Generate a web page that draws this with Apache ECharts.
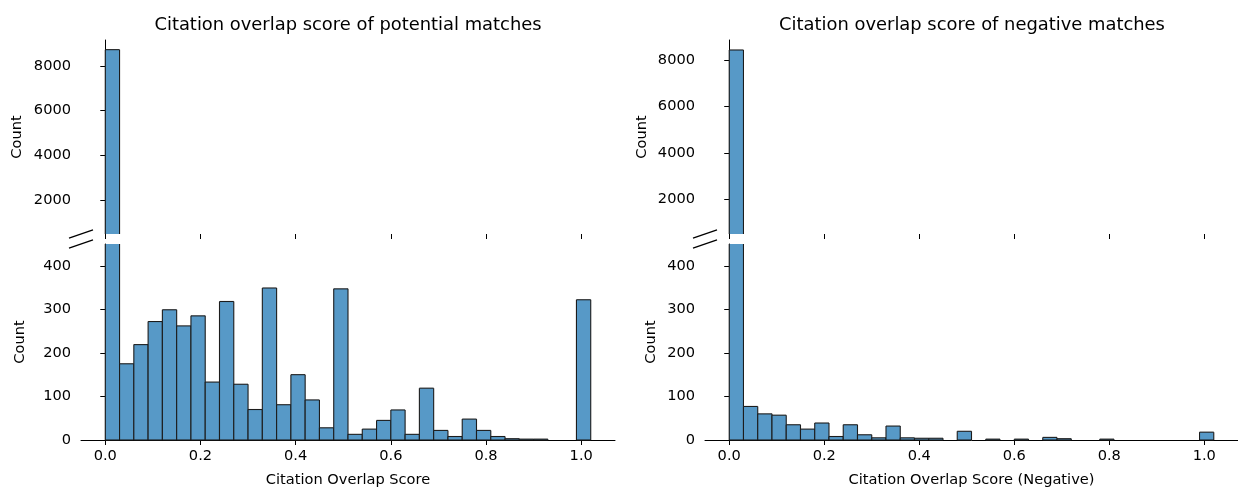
<!DOCTYPE html>
<html>
<head>
<meta charset="utf-8">
<script src="https://cdn.jsdelivr.net/npm/echarts@6/dist/echarts.min.js"></script>
<style>
html,body{margin:0;padding:0;background:#fff;}
#chart{width:1238px;height:489px;}
</style>
</head>
<body>
<div id="chart"></div>
<script>
// ---- data ----
const binWidth = 0.03;
const binStart = 0.0;
const potentialCounts = [8720, 175, 219, 272, 299, 262, 285, 133, 318, 128, 70, 349, 81, 150, 92, 28, 347, 13, 25, 45, 69, 13, 119, 22, 8, 48, 22, 8, 3, 2, 2, 0, 0, 322];
const negativeCounts  = [8430, 77, 60, 57, 35, 25, 39, 8, 35, 12, 5, 32, 5, 4, 4, 0, 20, 0, 2, 0, 2, 0, 6, 3, 0, 0, 2, 0, 0, 0, 0, 0, 0, 18];
const xTicks = [0.0, 0.2, 0.4, 0.6, 0.8, 1.0];
const lowerYTicks = [0, 100, 200, 300, 400];
const upperYTicks = [2000, 4000, 6000, 8000];
const titles = ['Citation overlap score of potential matches', 'Citation overlap score of negative matches'];
const xNames = ['Citation Overlap Score', 'Citation Overlap Score (Negative)'];
const yName = 'Count';

// ---- layout ----
const FONT = 'DejaVu Sans';
const xMin = -0.051, xMax = 1.071;
const lowerMax = 450, upperMin = 500;
const upperMaxes = [9150, 8860];
const panels = [
  {left: 81, width: 534, gapTop: 56, gapBot: 53},
  {left: 705, width: 534, gapTop: 55, gapBot: 46}
];
const topY = 40, topH = 194, botY = 244, botH = 196;
const FILL = '#5799c7', EDGE = '#1c1c1c', AX = '#000';
const LBL = 14.6, TTL = 17.9;

function binData(counts) {
  return counts.map((c, i) => [binStart + i * binWidth, binStart + (i + 1) * binWidth, c]);
}

function renderHist(params, api) {
  const v = api.value(2);
  if (!(v > 0)) return;
  const cs = params.coordSys;
  const a = api.coord([api.value(0), v]);
  const b = api.coord([api.value(1), 0]);
  const xL = a[0], xR = b[0];
  const top = cs.y, bottom = cs.y + cs.height;
  if (a[1] >= bottom) return;
  const clipTop = a[1] < top;
  const clipBot = b[1] > bottom;
  const yT = Math.max(a[1], top);
  const yB = Math.min(b[1], bottom);
  const ls = {stroke: EDGE, lineWidth: 1.1};
  const children = [
    {type: 'rect', shape: {x: xL, y: yT, width: xR - xL, height: yB - yT}, style: {fill: FILL}},
    {type: 'line', shape: {x1: xL, y1: yB, x2: xL, y2: yT}, style: ls},
    {type: 'line', shape: {x1: xR, y1: yB, x2: xR, y2: yT}, style: ls}
  ];
  if (!clipTop) children.push({type: 'line', shape: {x1: xL, y1: yT, x2: xR, y2: yT}, style: ls});
  if (!clipBot) children.push({type: 'line', shape: {x1: xL, y1: yB, x2: xR, y2: yB}, style: ls});
  return {type: 'group', children: children};
}

const grids = [], xAxes = [], yAxes = [], series = [], titleOpts = [], graphics = [];
const labelStyle = {color: '#000', fontFamily: FONT, fontSize: LBL};
const countsList = [potentialCounts, negativeCounts];
const plain = v => String(v);

panels.forEach((p, k) => {
  grids.push({left: p.left, width: p.width, top: topY, height: topH, containLabel: false});
  grids.push({left: p.left, width: p.width, top: botY, height: botH, containLabel: false});
  const gU = 2 * k, gL = 2 * k + 1;
  xAxes.push({
    type: 'value', gridIndex: gU, min: xMin, max: xMax,
    axisLine: {show: false},
    axisTick: {show: true, inside: false, length: 5, lineStyle: {color: AX, width: 1}, customValues: xTicks},
    axisLabel: {show: false, customValues: xTicks},
    splitLine: {show: false}
  });
  xAxes.push({
    type: 'value', gridIndex: gL, min: xMin, max: xMax,
    name: xNames[k], nameLocation: 'middle', nameGap: 33,
    nameTextStyle: labelStyle,
    axisLine: {show: true, onZero: false, lineStyle: {color: AX, width: 1}},
    axisTick: {show: true, length: 5, lineStyle: {color: AX, width: 1}, customValues: xTicks},
    axisLabel: Object.assign({margin: 9, customValues: xTicks, formatter: v => v.toFixed(1)}, labelStyle),
    splitLine: {show: false}
  });
  yAxes.push({
    type: 'value', gridIndex: gU, min: upperMin, max: upperMaxes[k],
    name: yName, nameLocation: 'middle', nameGap: p.gapTop, nameRotate: 90,
    nameTextStyle: labelStyle,
    axisLine: {show: true, lineStyle: {color: AX, width: 1}},
    axisTick: {show: true, length: 5, lineStyle: {color: AX, width: 1}, customValues: upperYTicks},
    axisLabel: Object.assign({margin: 10, customValues: upperYTicks, formatter: plain}, labelStyle),
    splitLine: {show: false}
  });
  yAxes.push({
    type: 'value', gridIndex: gL, min: 0, max: lowerMax,
    name: yName, nameLocation: 'middle', nameGap: p.gapBot, nameRotate: 90,
    nameTextStyle: labelStyle,
    axisLine: {show: true, lineStyle: {color: AX, width: 1}},
    axisTick: {show: true, length: 5, lineStyle: {color: AX, width: 1}, customValues: lowerYTicks},
    axisLabel: Object.assign({margin: 10, customValues: lowerYTicks, formatter: plain}, labelStyle),
    splitLine: {show: false}
  });
  const data = binData(countsList[k]);
  [gU, gL].forEach(ax => {
    series.push({
      type: 'custom', xAxisIndex: ax, yAxisIndex: ax, renderItem: renderHist,
      data: data, encode: {x: [0, 1], y: 2}, clip: false, silent: true
    });
  });
  titleOpts.push({
    text: titles[k], left: p.left + p.width / 2, top: 16, textAlign: 'center', padding: 0,
    textStyle: {fontFamily: FONT, fontSize: TTL, fontWeight: 'normal', color: '#000'}
  });
  [topY + topH, botY].forEach(cy => {
    graphics.push({
      type: 'line', silent: true, z: 100,
      shape: {x1: p.left - 12, y1: cy + 4.2, x2: p.left + 12, y2: cy - 4.2},
      style: {stroke: '#000', lineWidth: 1.3}
    });
  });
});

const chart = echarts.init(document.getElementById('chart'), null, {renderer: 'canvas'});
chart.setOption({
  backgroundColor: '#fff',
  animation: false,
  title: titleOpts,
  grid: grids,
  xAxis: xAxes,
  yAxis: yAxes,
  series: series,
  graphic: graphics
});
</script>
</body>
</html>
